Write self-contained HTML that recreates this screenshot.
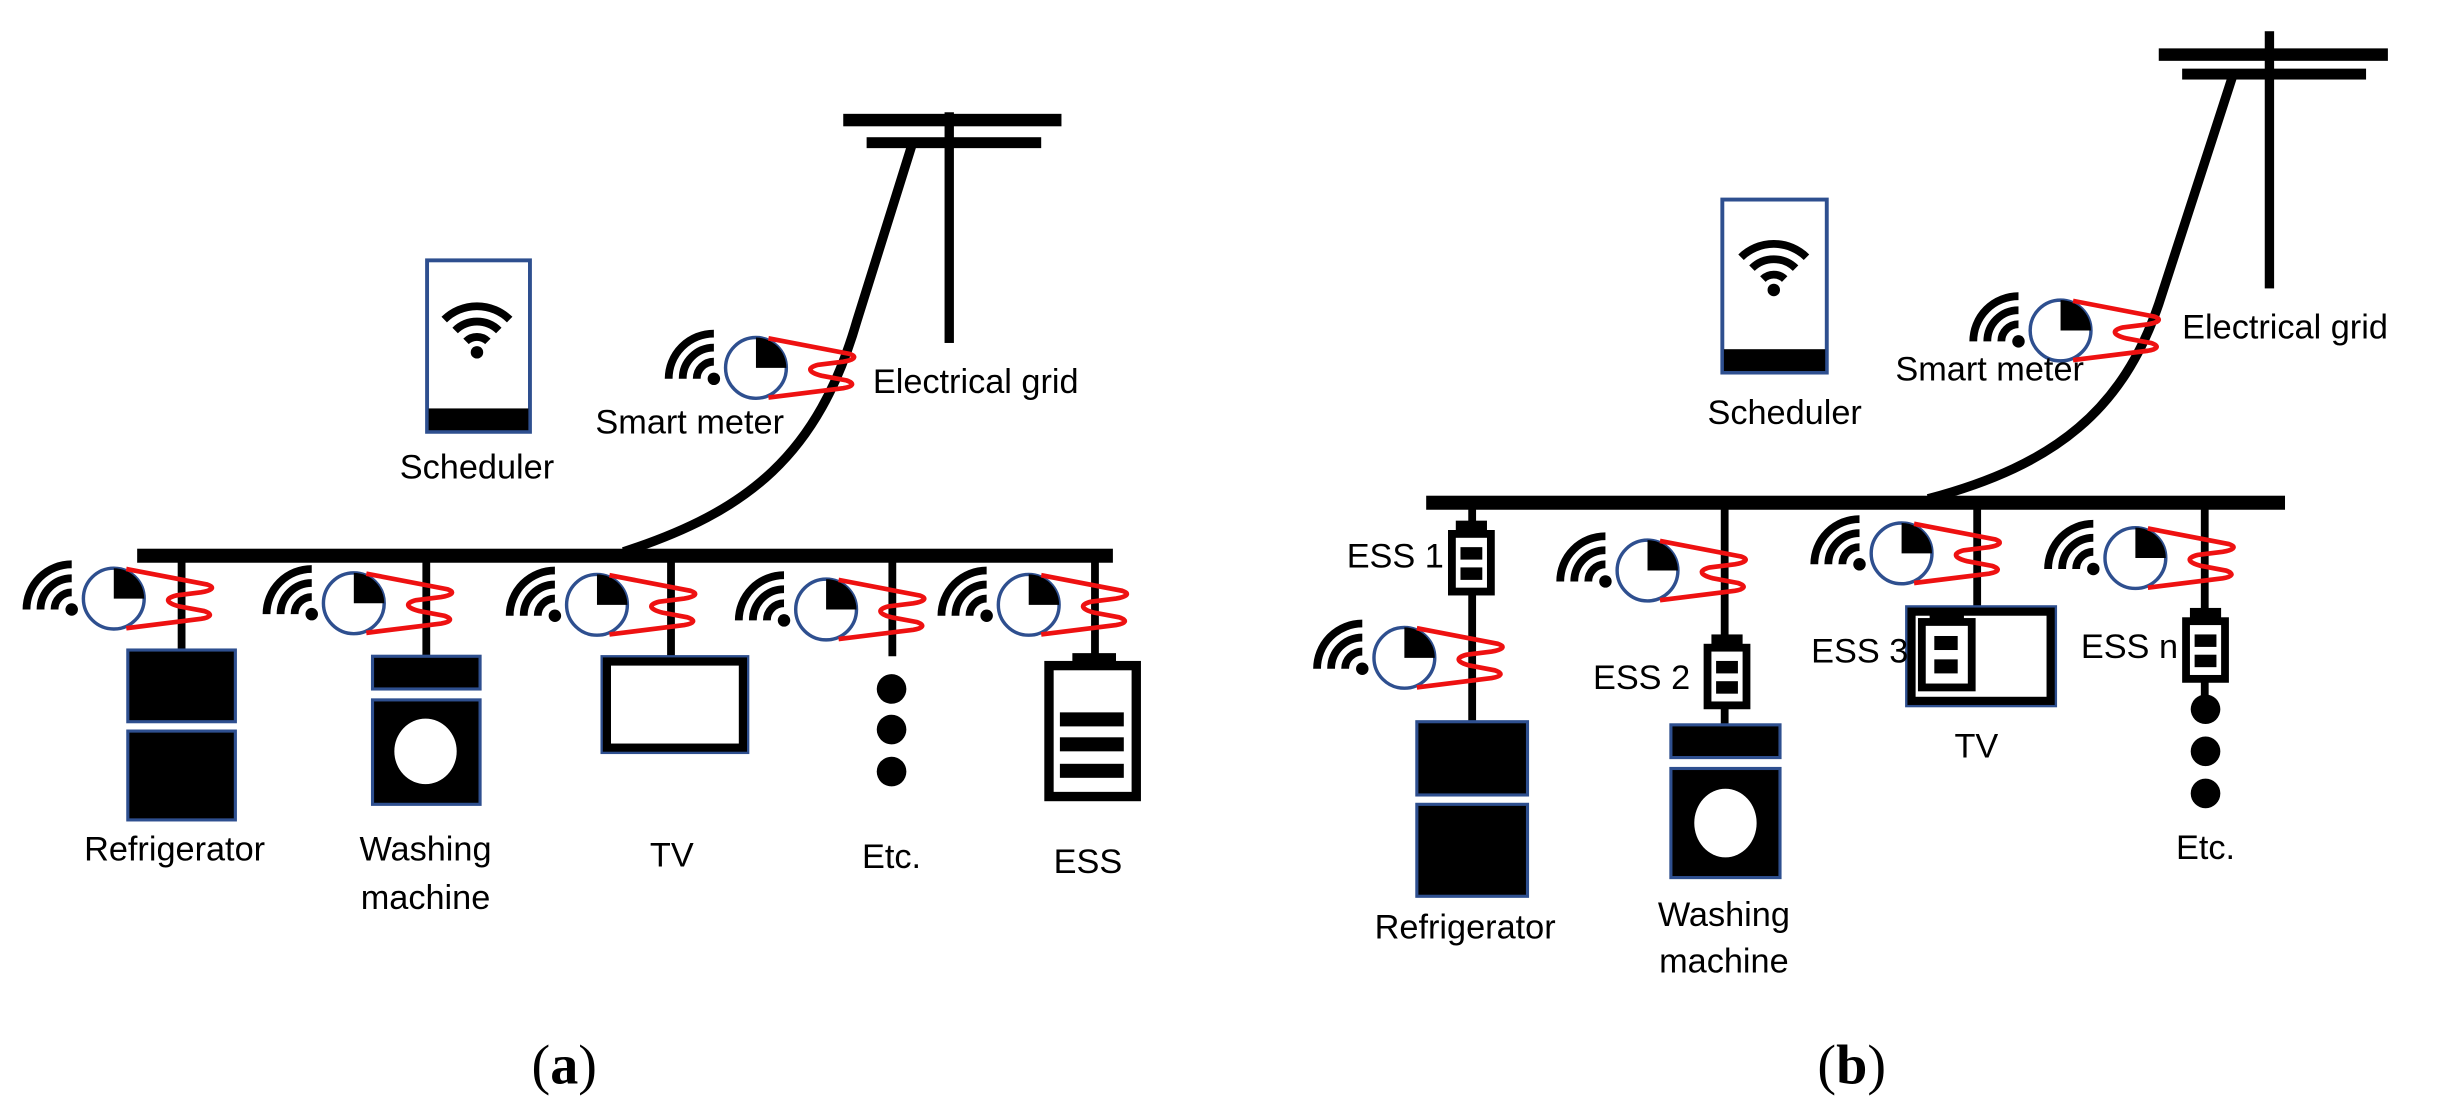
<!DOCTYPE html>
<html><head><meta charset="utf-8"><style>
html,body{margin:0;padding:0;background:#fff;}
svg{display:block;}
text{font-family:"Liberation Sans",sans-serif;font-size:22px;fill:#000;}
</style></head><body>
<svg width="2444" height="1113" viewBox="0 0 1568 714" xmlns="http://www.w3.org/2000/svg">
<defs>
<g id="meter">
  <circle cx="-27" cy="7" r="4" fill="#000"/>
  <path d="M-38,7 A11 11 0 0 1 -27,-4 M-47,7 A20 20 0 0 1 -27,-13 M-56,7 A29 29 0 0 1 -27,-22" fill="none" stroke="#000" stroke-width="5"/>
  <ellipse cx="0" cy="0" rx="19.5" ry="19.5" fill="#fff" stroke="#2e4f8f" stroke-width="2.2"/>
  <path d="M0,0 L0,-19.5 A19.5 19.5 0 0 1 19.5,0 Z" fill="#000"/>
  <path d="M8,-19 L60,-9 C66,-7 62,-5 56,-4 L40,-2 C32,0 34,3 42,5 L58,8 C64,10 62,12 56,13 L8,19" fill="none" stroke="#ee1111" stroke-width="3"/>
</g>
<g id="wifi">
  <circle cx="0" cy="0" r="4" fill="#000"/>
  <path d="M-7,-7 A10 10 0 0 1 7,-7 M-14,-14 A20 20 0 0 1 14,-14 M-21,-21 A30 30 0 0 1 21,-21" fill="none" stroke="#000" stroke-width="5"/>
</g>
<g id="outlet">
  <rect x="-10" y="-6" width="20" height="7" fill="#000"/>
  <rect x="-12.5" y="2.5" width="25" height="37" fill="#fff" stroke="#000" stroke-width="5"/>
  <rect x="-7" y="11" width="14" height="8" fill="#000"/>
  <rect x="-7" y="24" width="14" height="8" fill="#000"/>
</g>
</defs>

<!-- ===== Panel (a) ===== -->
<rect x="88" y="352" width="626" height="9" fill="#000"/>
<rect x="606" y="72" width="6" height="148" fill="#000"/>
<rect x="541" y="73" width="140" height="8" fill="#000"/>
<rect x="556" y="88" width="112" height="7" fill="#000"/>
<path d="M400,354 C480,328 525,292 550,205 L586,90" fill="none" stroke="#000" stroke-width="6"/>

<rect x="274" y="167" width="66" height="110" fill="#fff" stroke="#2e4f8f" stroke-width="2.5"/>
<rect x="275" y="262" width="64" height="14" fill="#000"/>
<use href="#wifi" x="306" y="226"/>
<text x="306" y="307" text-anchor="middle">Scheduler</text>

<use href="#meter" x="485" y="236"/>
<text x="382" y="278">Smart meter</text>
<text x="560" y="252">Electrical grid</text>

<rect x="114" y="357" width="5" height="62" fill="#000"/>
<rect x="271" y="357" width="5" height="65" fill="#000"/>
<rect x="428" y="357" width="5" height="65" fill="#000"/>
<rect x="570" y="357" width="5" height="64" fill="#000"/>
<rect x="700" y="357" width="5" height="64" fill="#000"/>

<use href="#meter" x="73" y="384"/>
<use href="#meter" x="227" y="387"/>
<use href="#meter" x="383" y="388"/>
<use href="#meter" x="530" y="391"/>
<use href="#meter" x="660" y="388"/>

<rect x="82" y="417" width="69" height="46" fill="#000" stroke="#2e4f8f" stroke-width="2"/>
<rect x="82" y="469" width="69" height="57" fill="#000" stroke="#2e4f8f" stroke-width="2"/>
<text x="112" y="552" text-anchor="middle">Refrigerator</text>
<rect x="239" y="421" width="69" height="21" fill="#000" stroke="#2e4f8f" stroke-width="2"/>
<rect x="239" y="449" width="69" height="67" fill="#000" stroke="#2e4f8f" stroke-width="2"/>
<ellipse cx="273" cy="482" rx="20" ry="21" fill="#fff"/>
<text x="273" y="552" text-anchor="middle">Washing</text>
<text x="273" y="583" text-anchor="middle">machine</text>
<rect x="389" y="424" width="88" height="56" fill="#fff" stroke="#000" stroke-width="6"/>
<rect x="386" y="421" width="94" height="62" fill="none" stroke="#2e4f8f" stroke-width="1.5"/>
<text x="431" y="556" text-anchor="middle">TV</text>
<circle cx="572" cy="442" r="9.5" fill="#000"/>
<circle cx="572" cy="468" r="9.5" fill="#000"/>
<circle cx="572" cy="495" r="9.5" fill="#000"/>
<text x="572" y="557" text-anchor="middle">Etc.</text>
<rect x="688" y="419" width="28" height="7" fill="#000"/>
<rect x="673" y="427" width="56" height="84" fill="#fff" stroke="#000" stroke-width="6"/>
<rect x="680" y="457" width="41" height="9" fill="#000"/>
<rect x="680" y="473" width="41" height="9" fill="#000"/>
<rect x="680" y="490" width="41" height="9" fill="#000"/>
<text x="698" y="560" text-anchor="middle">ESS</text>

<text x="362" y="695" text-anchor="middle" style="font-family:'Liberation Serif',serif;font-size:36px;">(<tspan font-weight="bold">a</tspan>)</text>

<!-- ===== Panel (b) ===== -->
<rect x="915" y="318" width="551" height="9" fill="#000"/>
<rect x="1453" y="20" width="6" height="165" fill="#000"/>
<rect x="1385" y="31" width="147" height="8" fill="#000"/>
<rect x="1400" y="44" width="118" height="7" fill="#000"/>
<path d="M1237,320 C1320,298 1362,262 1385,195 L1432,50" fill="none" stroke="#000" stroke-width="6"/>

<rect x="1105" y="128" width="67" height="111" fill="#fff" stroke="#2e4f8f" stroke-width="2.5"/>
<rect x="1106" y="224" width="65" height="14" fill="#000"/>
<use href="#wifi" x="1138" y="186"/>
<text x="1145" y="272" text-anchor="middle">Scheduler</text>

<use href="#meter" x="1322" y="212"/>
<text x="1216" y="244">Smart meter</text>
<text x="1400" y="217">Electrical grid</text>

<rect x="942" y="323" width="5" height="142" fill="#000"/>
<rect x="1104" y="323" width="5" height="143" fill="#000"/>
<rect x="1266" y="323" width="5" height="67" fill="#000"/>
<rect x="1412" y="323" width="5" height="130" fill="#000"/>

<use href="#outlet" x="944" y="340"/>
<text x="864" y="364">ESS 1</text>
<use href="#meter" x="901" y="422"/>
<rect x="909" y="463" width="71" height="47" fill="#000" stroke="#2e4f8f" stroke-width="2"/>
<rect x="909" y="516" width="71" height="59" fill="#000" stroke="#2e4f8f" stroke-width="2"/>
<text x="940" y="602" text-anchor="middle">Refrigerator</text>

<use href="#meter" x="1057" y="366"/>
<use href="#outlet" x="1108" y="413"/>
<text x="1022" y="442">ESS 2</text>
<rect x="1072" y="465" width="70" height="21" fill="#000" stroke="#2e4f8f" stroke-width="2"/>
<rect x="1072" y="493" width="70" height="70" fill="#000" stroke="#2e4f8f" stroke-width="2"/>
<ellipse cx="1107" cy="528" rx="20" ry="22" fill="#fff"/>
<text x="1106" y="594" text-anchor="middle">Washing</text>
<text x="1106" y="624" text-anchor="middle">machine</text>

<use href="#meter" x="1220" y="355"/>
<rect x="1226" y="392" width="90" height="58" fill="#fff" stroke="#000" stroke-width="6"/>
<rect x="1223" y="389" width="96" height="64" fill="none" stroke="#2e4f8f" stroke-width="1.5"/>
<rect x="1238" y="391" width="22" height="7" fill="#000"/>
<rect x="1233" y="399" width="32" height="42" fill="#fff" stroke="#000" stroke-width="5"/>
<rect x="1241" y="408" width="15" height="9" fill="#000"/>
<rect x="1241" y="423" width="15" height="9" fill="#000"/>
<text x="1162" y="425">ESS 3</text>
<text x="1268" y="486" text-anchor="middle">TV</text>

<use href="#meter" x="1370" y="358"/>
<use href="#outlet" x="1415" y="396"/>
<text x="1335" y="422">ESS n</text>
<circle cx="1415" cy="455" r="9.5" fill="#000"/>
<circle cx="1415" cy="482" r="9.5" fill="#000"/>
<circle cx="1415" cy="509" r="9.5" fill="#000"/>
<text x="1415" y="551" text-anchor="middle">Etc.</text>

<text x="1188" y="695" text-anchor="middle" style="font-family:'Liberation Serif',serif;font-size:36px;">(<tspan font-weight="bold">b</tspan>)</text>
</svg>
</body></html>
